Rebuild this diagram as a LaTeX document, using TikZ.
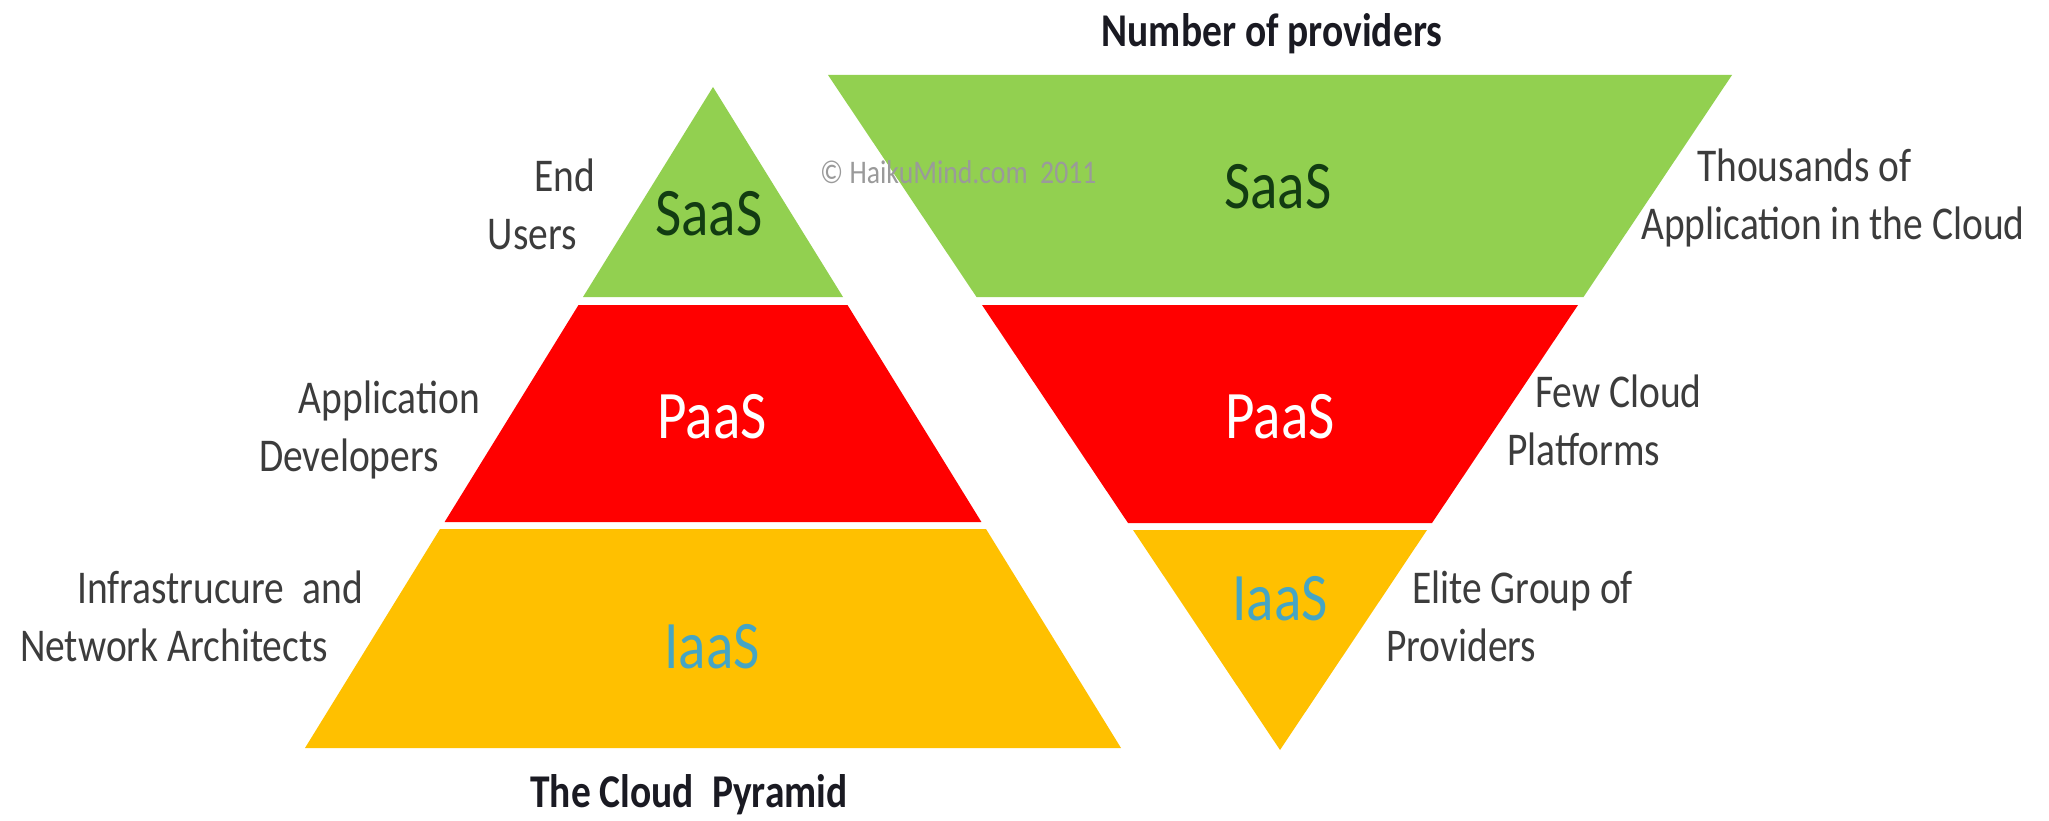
\documentclass[tikz,border=0pt]{standalone}
\usepackage{fontspec}
\setmainfont{Carlito}[FakeStretch=0.84]
\definecolor{lgreen}{HTML}{92D050}
\definecolor{lred}{HTML}{FF0000}
\definecolor{lyellow}{HTML}{FFC000}
\definecolor{saastext}{HTML}{123C12}
\definecolor{iaastext}{HTML}{45A5C4}
\definecolor{sidegray}{HTML}{3C3C3C}
\definecolor{titleblack}{HTML}{1A1A22}
\definecolor{wmgray}{HTML}{9A9A9A}
\begin{document}
\begin{tikzpicture}[x=1pt,y=-1pt,
  big/.style={font=\fontsize{68}{82}\selectfont, anchor=base, inner sep=0pt},
  side/.style={font=\fontsize{47}{58}\selectfont, text=sidegray, inner sep=0pt},
  titletext/.style={font=\bfseries\fontsize{47}{58}\selectfont, anchor=base, inner sep=0pt, text=titleblack},
  wmark/.style={font=\fontsize{33}{40}\selectfont, text=wmgray, anchor=base west, inner sep=0pt}]
\useasboundingbox (0,0) rectangle (2049,821);

% ---- left pyramid ----
\coordinate (Lapex) at (713,87);
\fill[lgreen] (Lapex) -- (843,297) -- (583,297) -- cycle;
\fill[lred] (578.5,305) -- (847.5,305) -- (981.4,522) -- (444.6,522) -- cycle;
\fill[lyellow] (440,529) -- (986,529) -- (1121,748) -- (305,748) -- cycle;

% ---- right inverted pyramid ----
\coordinate (Rtip) at (1280,750);
\fill[lgreen] (828,75) -- (1732,75) -- (1583.5,297) -- (976.5,297) -- cycle;
\fill[lred] (982,305) -- (1578,305) -- (1432,523) -- (1128,523) -- cycle;
\fill[lyellow] (1133,530) -- (1427,530) -- (Rtip) -- cycle;

% ---- layer labels ----
\node[big, text=saastext] (lsaas) at (709,235) {SaaS};
\node[big, text=white] (lpaas) at (712,438) {PaaS};
\node[big, text=iaastext] (liaas) at (712,668) {IaaS};
\node[big, text=saastext] (rsaas) at (1278,208) {SaaS};
\node[big, text=white] (rpaas) at (1280,438) {PaaS};
\node[big, text=iaastext] (riaas) at (1280,620) {IaaS};

% ---- left side labels ----
\node[side, anchor=base east] (users) at (595,192)
  {\begin{tabular}[t]{@{}r@{}}End\\Users\hspace*{18pt}\end{tabular}};
\node[side, anchor=base east] (devs) at (480,413)
  {\begin{tabular}[t]{@{}r@{}}Application\\Developers\hspace*{41pt}\end{tabular}};
\node[side, anchor=base east] (archs) at (363,603)
  {\begin{tabular}[t]{@{}r@{}}Infrastrucure\ \ and\\Network Architects\hspace*{35pt}\end{tabular}};

% ---- right side labels ----
\node[side, anchor=base west] (thousands) at (1641,182)
  {\begin{tabular}[t]{@{}l@{}}\hspace*{56pt}Thousands of\\Application in the Cloud\end{tabular}};
\node[side, anchor=base west] (platforms) at (1507,407)
  {\begin{tabular}[t]{@{}l@{}}\hspace*{28pt}Few Cloud\\Platforms\end{tabular}};
\node[side, anchor=base west] (elite) at (1386,603)
  {\begin{tabular}[t]{@{}l@{}}\hspace*{26pt}Elite Group of\\Providers\end{tabular}};

% ---- titles ----
\node[titletext] (numprov) at (1272,47) {Number of providers};
\node[titletext] (cloudpyr) at (689,807) {The Cloud\ \ Pyramid};

% ---- watermark ----
\node[wmark] (wm) at (820,183) {© HaikuMind.com\ \ 2011};
\end{tikzpicture}
\end{document}
